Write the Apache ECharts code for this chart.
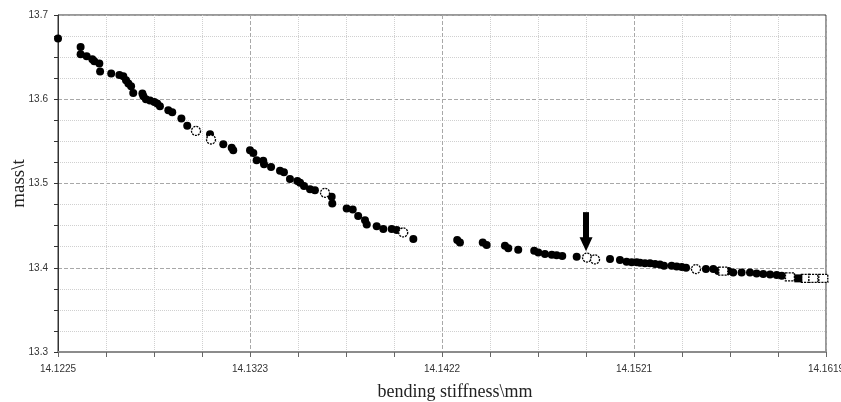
<!DOCTYPE html>
<html>
<head>
<meta charset="utf-8">
<script src="https://cdn.jsdelivr.net/npm/echarts@6/dist/echarts.min.js"></script>
<style>
html, body { margin: 0; padding: 0; background: #fff; }
#container { width: 841px; height: 402px; }
</style>
</head>
<body>
<div id="container"></div>
<script>
// tick labels of the stiffness axis (major ticks are evenly spaced)
var xTickLabels = ['14.1225', '14.1323', '14.1422', '14.1521', '14.1619'];
var X0 = 14.1225;
var X_STEP = 0.00985;

// solution points (filled dots)
var filledX = [14.1225, 14.12366, 14.12366, 14.12397, 14.12426, 14.12436, 14.12462, 14.12466, 14.12523, 14.12565,
  14.12585, 14.12599, 14.12611, 14.12625, 14.12636, 14.12683, 14.12688, 14.12701, 14.12722, 14.12744,
  14.12759, 14.12773, 14.12816, 14.12836, 14.12883, 14.12913, 14.1303, 14.13098, 14.13141, 14.13149,
  14.13235, 14.13252, 14.13269, 14.13303, 14.13307, 14.13343, 14.13389, 14.13409, 14.1344, 14.13478,
  14.13492, 14.13512, 14.13543, 14.13568, 14.13654, 14.13657, 14.13731, 14.13762, 14.1379, 14.13825,
  14.13834, 14.13885, 14.13919, 14.13962, 14.13988, 14.14073, 14.14298, 14.14312, 14.14429, 14.14449,
  14.14543, 14.1456, 14.14611, 14.14693, 14.14714, 14.14748, 14.14783, 14.14808, 14.14837, 14.14911,
  14.15082, 14.15133, 14.15167, 14.15193, 14.15219, 14.15236, 14.15261, 14.15287, 14.15313, 14.15338,
  14.15359, 14.15398, 14.15424, 14.1545, 14.15472, 14.15574, 14.15612, 14.15637, 14.15689, 14.15714,
  14.15757, 14.158, 14.15834, 14.15868, 14.15903, 14.15937, 14.15963];
var filledY = [13.672, 13.6621, 13.6534, 13.651, 13.6475, 13.6451, 13.6424, 13.6329, 13.6305, 13.6288,
  13.6273, 13.6226, 13.6186, 13.6154, 13.6075, 13.6068, 13.6036, 13.6, 13.5985, 13.5968,
  13.5949, 13.5917, 13.587, 13.5846, 13.5771, 13.5684, 13.5585, 13.5467, 13.5423, 13.5395,
  13.5395, 13.5363, 13.5277, 13.5269, 13.5229, 13.5197, 13.515, 13.5135, 13.5052, 13.5031,
  13.5008, 13.4969, 13.4933, 13.4921, 13.4842, 13.4763, 13.4704, 13.4692, 13.4613, 13.4565,
  13.4514, 13.4494, 13.4459, 13.4459, 13.4447, 13.434, 13.4328, 13.4301, 13.4301, 13.4269,
  13.4261, 13.423, 13.4213, 13.4201, 13.4182, 13.4162, 13.4154, 13.4147, 13.4138, 13.413,
  13.4103, 13.4091, 13.4071, 13.4064, 13.4064, 13.4059, 13.4052, 13.4052, 13.4044, 13.404,
  13.4023, 13.4023, 13.4016, 13.4008, 13.4, 13.3984, 13.3984, 13.396, 13.396, 13.3945,
  13.3945, 13.3945, 13.3933, 13.3925, 13.3921, 13.3913, 13.3905];

// hollow circles
var hollowX = [14.12958, 14.13035, 14.1362, 14.14021, 14.14964, 14.15005, 14.15523];
var hollowY = [13.5624, 13.5522, 13.4889, 13.4419, 13.4121, 13.4099, 13.3984];

// squares at the right end
var hollowSqX = [14.15663, 14.16005, 14.16087, 14.16125, 14.16176];
var hollowSqY = [13.396, 13.3893, 13.3874, 13.3874, 13.3874];
var filledSqX = [14.16048];
var filledSqY = [13.3874];

// arrow marking the chosen point
var arrowX = 14.14959;
var arrowTop = 13.466;
var arrowEnd = 13.428;

function pairs(xs, ys) {
  return xs.map(function (x, i) { return [x - X0, ys[i]]; });
}

var dom = document.getElementById('container');
var myChart = echarts.init(dom);

var option = {
  backgroundColor: '#fff',
  animation: false,
  grid: {
    left: 58, right: 15, top: 15, bottom: 50,
    show: true, borderColor: '#333', borderWidth: 1,
    outerBoundsMode: 'none'
  },
  xAxis: {
    type: 'value',
    min: 0,
    max: 4 * X_STEP,
    interval: X_STEP,
    axisLine: { lineStyle: { color: '#8c8c8c', width: 2 } },
    axisTick: { show: true, length: 5, lineStyle: { color: '#666' } },
    minorTick: { show: true, splitNumber: 4, length: 5, lineStyle: { color: '#666' } },
    splitLine: { show: true, lineStyle: { color: '#a8a8a8', type: [4, 2] } },
    minorSplitLine: { show: true, lineStyle: { color: '#d0d0d0', type: [1, 1] } },
    axisLabel: {
      margin: 12, fontSize: 10, color: '#333', fontFamily: 'Liberation Sans',
      showMaxLabel: true,
      formatter: function (v) { return xTickLabels[Math.round(v / X_STEP)] || ''; }
    },
    name: 'bending stiffness\\mm',
    nameLocation: 'middle',
    nameGap: 31,
    nameMoveOverlap: false,
    nameTextStyle: { fontFamily: 'Liberation Serif', fontSize: 18, color: '#222', padding: [0, 0, 0, 26] }
  },
  yAxis: {
    type: 'value',
    min: 13.3,
    max: 13.7,
    interval: 0.1,
    axisLine: { show: true, lineStyle: { color: '#333' } },
    axisTick: { show: true, length: 4, lineStyle: { color: '#333' } },
    minorTick: { show: true, splitNumber: 4, length: 4, lineStyle: { color: '#333' } },
    splitLine: { show: true, lineStyle: { color: '#a8a8a8', type: [4, 2] } },
    minorSplitLine: { show: true, lineStyle: { color: '#d0d0d0', type: [1, 1] } },
    axisLabel: {
      margin: 10, fontSize: 10, color: '#333', fontFamily: 'Liberation Sans',
      formatter: function (v) { return v.toFixed(1); }
    },
    name: 'mass\\t',
    nameLocation: 'middle',
    nameGap: 29,
    nameMoveOverlap: false,
    nameTextStyle: { fontFamily: 'Liberation Serif', fontSize: 19, color: '#222' }
  },
  series: [
    {
      name: 'solutions',
      type: 'scatter',
      symbol: 'circle',
      symbolSize: 8,
      itemStyle: { color: '#000', opacity: 1 },
      data: pairs(filledX, filledY),
      markLine: {
        silent: true,
        symbol: ['none', 'triangle'],
        symbolSize: [13, 14],
        label: { show: false },
        lineStyle: { color: '#000', width: 6, type: 'solid', opacity: 1 },
        data: [[{ coord: [arrowX - X0, arrowTop] }, { coord: [arrowX - X0, arrowEnd] }]]
      }
    },
    {
      name: 'hollow',
      type: 'scatter',
      symbol: 'circle',
      symbolSize: 9,
      itemStyle: { color: '#fff', borderColor: '#000', borderWidth: 1.3, borderType: [2, 1], opacity: 1 },
      data: pairs(hollowX, hollowY)
    },
    {
      name: 'hollow square',
      type: 'scatter',
      symbol: 'rect',
      symbolSize: [9, 8],
      itemStyle: { color: '#fff', borderColor: '#000', borderWidth: 1.3, borderType: [2, 1], opacity: 1 },
      data: pairs(hollowSqX, hollowSqY)
    },
    {
      name: 'filled square',
      type: 'scatter',
      symbol: 'rect',
      symbolSize: [8, 8],
      itemStyle: { color: '#000', opacity: 1 },
      data: pairs(filledSqX, filledSqY)
    }
  ]
};

if (option && typeof option === 'object') {
  myChart.setOption(option, true);
}
</script>
</body>
</html>
